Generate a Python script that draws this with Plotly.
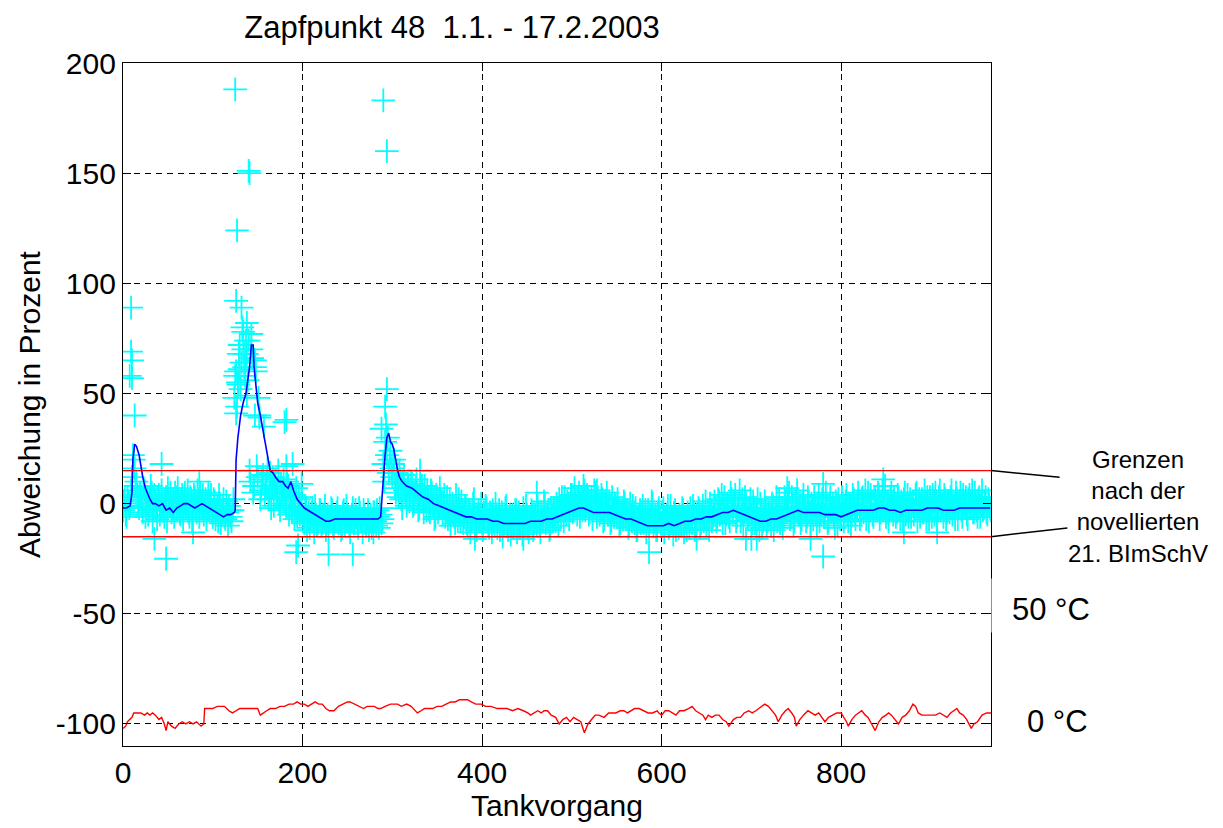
import plotly.graph_objects as go

# ---------------- data ----------------
X_MAX = 967
Y_MIN, Y_MAX = -110, 200
x_ticks = [0, 200, 400, 600, 800]
x_tick_labels = ["0", "200", "400", "600", "800"]
y_ticks = [-100, -50, 0, 50, 100, 150, 200]
y_tick_labels = ["-100", "-50", "0", "50", "100", "150", "200"]

limit_upper = 15
limit_lower = -15

# individual deviations, even Tankvorgang numbers
tank_even = list(range(0, 968, 2))
dev_even = [
    -3, 2, -6, 1, -1, 12, 20, 8, 4, -2,
    3, -4, 6, 0, -5, 2, 5, -3, 1, -7,
    4, -2, 0, -6, 3, 7, -1, -4, 2, 5,
    -3, 1, -5, 4, 0, -2, 6, -6, 2, -1,
    3, -4, 1, 5, -2, -5, 2, 0, -3, 4,
    -6, 1, -3, -8, 0, -5, 2, -7, -4, -1,
    -6, -3, 48, 60, 55, 72, 64, 78, 58, 68,
    74, 10, 66, 8, 60, 12, 40, 6, 13, 4,
    10, 2, 14, 7, -1, 11, 5, 0, 9, 3,
    6, -2, 8, 1, -4, 4, -1, -6, 2, -3,
    -5, -9, -2, -7, -11, -4, -8, -1, -10, -6,
    -3, -9, -7, -12, -5, -8, -2, -10, -6, -4,
    -9, -6, -11, -3, -8, -5, -10, -7, -2, -9,
    -6, -11, -4, -8, -3, -9, -7, -12, -5, -8,
    -4, -10, -6, -2, -9, 18, 28, 22, 14, 24,
    12, 20, 5, 9, 15, 2, 10, 6, -1, 8,
    4, 9, 0, 7, 3, -2, 6, 1, 8, -3,
    2, -4, 5, 0, -6, 3, -2, 1, -5, 4,
    -3, -7, 1, -5, -1, -9, -4, 2, -8, -3,
    -6, -2, -10, -4, -8, 0, -7, -12, -3, -5,
    -9, -4, -1, -8, -11, -6, -3, -10, -5, -7,
    -12, -4, -8, -2, -10, -7, -14, -5, -9, -3,
    -8, -11, -6, -2, -10, -5, -13, -7, -4, -9,
    -6, -1, -10, -4, -8, 0, -7, -3, -11, -5,
    -2, -8, -4, 2, -6, -1, 3, -5, 0, -3,
    4, -2, 1, -5, 5, 0, -3, 6, -1, 2,
    -4, 3, -2, 5, -6, 0, -3, 2, -7, -1,
    -5, 1, -8, -3, 0, -6, -2, -9, -4, 1,
    -7, -3, -10, -5, -1, -9, -12, -6, -3, -8,
    -9, -3, -7, -11, -5, 0, -8, -12, -4, -6,
    -10, -2, -7, -5, -11, -1, -8, -4, -12, -6,
    -5, -10, -3, -8, -12, -6, -2, -9, -4, -11,
    -7, -3, -9, -1, -6, -10, -4, 0, -8, -5,
    -2, -7, 1, -4, -9, 3, -5, -1, -8, 2,
    -3, 4, -6, -1, -8, 2, -4, 0, -7, -2,
    -5, 1, -9, -3, -7, 0, -11, -6, -2, -8,
    -4, -10, -1, -7, 3, -5, -9, -2, -6, 1,
    -3, 5, -6, 0, -8, 2, -4, -1, -7, 4,
    -2, -6, 1, -9, -3, 3, -5, 0, -8, -1,
    2, -5, -1, -8, 3, -3, -6, 1, -10, -2,
    -6, 0, -4, 4, -8, -1, -5, 2, -7, -3,
    1, -5, 3, -2, -7, 5, -3, 0, -6, 2,
    -1, 4, -4, 6, -2, -6, 1, -3, 5, -5,
    0, -4, 3, -7, -1, 2, -5, 4, -2, -6,
    1, -3, 5, -1, -6, 2, -4, 0, 3, -7,
    -2, 4, -5, 1, -3, 6, -1, -6, 2, -4,
    0, 3, -5, -2, 5, -7, 1, -3, 4, -1,
    -5, 2, -2, 6, -4, 0, -6, 3, -1, -3,
    1, -4, 2, -2,
]

# individual deviations, odd Tankvorgang numbers
tank_odd = list(range(1, 968, 2))
dev_odd = [
    1, -5, 3, -2, 6, 22, 16, 10, 0, 5,
    -1, 7, -6, 3, -3, 8, -8, 4, -2, 2,
    -5, 6, -3, 2, -8, 1, 5, -2, -6, 3,
    7, -4, 2, -7, 5, -1, -4, 3, -8, 4,
    -2, 6, -6, 0, 4, -3, -7, 5, 1, -4,
    2, -7, -1, 4, -9, -2, -6, 1, -10, -3,
    -8, 2, 58, 44, 68, 52, 80, 62, 74, 56,
    15, 70, 5, 62, 17, 48, 2, 11, 35, 8,
    16, 5, -2, 12, 8, 3, 15, -3, 6, 11,
    0, 10, -5, 5, 2, -7, 7, -2, -5, 3,
    -8, -1, -12, -4, -7, -2, -13, -5, -9, -3,
    -10, -5, -1, -9, -13, -6, -3, -11, -8, -2,
    -7, -12, -4, -10, -1, -8, -13, -5, -9, -3,
    -9, -2, -7, -13, -5, -10, -3, -8, -11, -4,
    -8, -3, -11, -5, -7, 10, 36, 30, 20, 16,
    18, 7, 14, 3, 11, -2, 13, 4, 9, 1,
    10, -1, 5, 11, -3, 4, 8, -4, 2, 6,
    -3, 6, -1, -7, 4, -4, 7, -2, 0, -6,
    3, -5, -10, 0, -6, 4, -8, -2, 1, -9,
    -1, -9, -4, -13, -6, 2, -11, -5, -8, 0,
    -12, -6, -2, -10, -4, -13, -8, 0, -11, -3,
    -6, -15, -9, -1, -12, -5, -8, -11, -3, -13,
    -4, -9, -14, -6, -1, -11, -7, -3, -12, -5,
    -10, -4, -13, -7, 1, -9, -5, -12, -2, -8,
    -6, 0, -10, -3, 3, -8, -2, 1, -7, 4,
    -4, 7, -1, 3, -6, 2, 8, -3, 4, -5,
    1, -7, 6, -2, 3, -5, 4, -8, 0, 5,
    -2, -9, 3, -6, -1, 2, -10, -4, -7, 0,
    -4, -11, 0, -8, -6, -2, -12, -5, -9, -1,
    -6, -13, -3, -8, 1, -10, -5, -12, -2, -9,
    -4, -13, -6, -1, -10, -8, -14, -3, -7, -11,
    -9, -2, -13, -6, -4, -11, -7, -1, -12, -5,
    -2, -11, -5, -8, 1, -7, -12, -3, -6, 1,
    -8, 2, -5, 4, -3, -9, 0, -6, 5, -4,
    1, -8, -2, 6, -5, -10, 3, -3, -6, 2,
    -9, -2, -6, 2, -12, -4, -8, 1, -10, -5,
    -7, 0, -12, -3, -8, 2, -6, -11, 3, -4,
    1, -7, 3, -10, -2, 6, -5, -9, 0, -3,
    -8, 3, -4, 0, -7, -1, -10, 4, -5, 2,
    -6, 5, -9, -2, -4, 0, -11, -3, 2, -7,
    3, -8, 1, -5, 0, -10, 4, -4, -1, 5,
    -7, 2, -4, 6, -1, -8, 4, -5, 3, -3,
    5, -7, 0, -3, 8, -4, -8, 3, -1, 2,
    -6, 4, -2, 1, -8, 5, -3, -6, 2, 0,
    -5, 4, -8, 2, 0, -4, 6, -7, -2, 3,
    -6, 1, 5, -8, 3, -3, 0, 4, -7, 1,
    -4, 6, -2, -7, 2, -1, 5, -6, 0, 3,
    -7, 4, 0, -4, 5, -3, 2, -6, 6, -2,
    3, -5, 0, -3,
]
assert len(dev_even) == len(tank_even)
assert len(dev_odd) == len(tank_odd)

# outlying individual values
outlier_x = [9, 9, 10, 7.5, 10, 13, 126, 132, 138, 143, 134, 136, 147, 130, 128.5,
             138, 126, 147, 180, 294, 292, 288, 125, 141, 140, 127, 290, 294,
             35, 48, 78, 193, 195, 229, 256, 279, 43, 85, 182, 189, 199,
             780, 766, 780, 847, 907, 870, 694, 700, 706, 639, 740, 586,
             331, 528, 461, 392, 446, 152, 182]
outlier_y = [89, 69, 65, 58, 57, 40, 92, 89, 82, 77, 70, 68, 65, 61, 54,
             49, 41, 40, 37, 52, 44, 34, 188, 150, 151, 124, 183, 160,
             -16, -25, -13, -22, -19, -23, -23, -13, 18, 10, 17, 18, 9,
             -24, -16, 9, 11, -13, -13, -16, -16, -16, -16, 7, -22,
             15, 6, 5, -16, -16, 39, 38]

# running mean (blue)
mean_x = [0, 4, 8, 10, 11, 13, 15, 18, 20, 22, 25, 28, 30, 33, 36, 40, 44, 48, 52, 56,
          60, 64, 68, 72, 76, 80, 84, 88, 92, 96, 100, 104, 108, 112, 116, 120, 124, 125,
          126, 128, 131, 134, 137, 139, 141, 143, 145, 146, 148, 150, 153, 156, 159, 162,
          164, 167, 170, 174, 178, 181, 184, 187, 190, 194, 198, 202, 206, 210, 214, 218,
          222, 226, 230, 236, 242, 248, 254, 260, 266, 272, 278, 284, 287, 289, 290, 292,
          294, 296, 298, 300, 302, 304, 306, 308, 311, 316, 322, 328, 334, 340, 346, 352,
          358, 364, 370, 376, 382, 388, 394, 400, 406, 412, 418, 424, 430, 436, 442, 448,
          454, 460, 466, 472, 478, 484, 490, 496, 502, 508, 513, 518, 524, 530, 536, 542,
          548, 554, 560, 566, 572, 578, 584, 590, 596, 602, 608, 614, 620, 626, 632, 638,
          644, 650, 656, 662, 668, 674, 680, 686, 692, 698, 704, 710, 716, 722, 728, 734,
          740, 746, 752, 758, 764, 770, 776, 782, 788, 794, 800, 806, 812, 818, 824, 830,
          836, 842, 848, 854, 860, 866, 872, 878, 884, 890, 896, 902, 908, 914, 920, 926,
          932, 938, 944, 950, 956, 962, 966]
mean_y = [-2, -2, -1, 5, 20, 27, 26, 22, 17, 12, 7, 4, 2, 0, 0, -1, 0, -3, -2, -4,
          -2, -1, 0, 0, -1, -2, -1, 0, -1, -2, -3, -4, -5, -6, -5, -5, -4, -3,
          20, 30, 40, 46, 50, 55, 62, 72, 72, 62, 52, 46, 40, 33, 27, 20,
          15, 14, 12, 10, 10, 8, 7, 10, 6, 2, 0, -2, -3, -4, -5, -6,
          -7, -8, -8, -7, -7, -7, -7, -7, -7, -7, -7, -7, -6, 5, 15, 22,
          30, 32, 28, 27, 24, 19, 15, 12, 10, 8, 7, 5, 3, 2, 0, -1,
          -2, -3, -4, -5, -6, -6, -7, -7, -7, -8, -8, -9, -9, -9, -9, -9,
          -8, -8, -8, -7, -7, -6, -5, -4, -3, -2, -2, -3, -4, -4, -4, -4,
          -5, -6, -7, -7, -8, -9, -10, -10, -10, -10, -9, -10, -9, -8, -8, -7,
          -7, -6, -6, -5, -4, -4, -3, -4, -5, -6, -7, -8, -8, -7, -7, -6,
          -5, -4, -3, -4, -4, -4, -4, -5, -5, -5, -6, -5, -4, -3, -3, -3,
          -3, -2, -2, -3, -3, -4, -3, -3, -3, -3, -2, -2, -2, -3, -3, -3,
          -2, -2, -2, -2, -2, -2, -2]
assert len(mean_x) == len(mean_y)

# temperature curve (red, bottom; -100 = 0 °C, -50 = 50 °C)
temp_x = [0, 3, 5, 8, 10, 12, 16, 20, 24, 27, 30, 33, 36, 40, 43, 46, 48, 50, 54, 58,
          62, 66, 70, 74, 78, 82, 87, 90, 91, 96, 100, 105, 110, 113, 118, 122, 126, 130,
          135, 140, 145, 150, 153, 156, 160, 164, 170, 175, 180, 185, 190, 194, 198, 202,
          206, 210, 214, 218, 222, 226, 230, 235, 240, 245, 250, 253, 258, 262, 268, 272,
          276, 280, 284, 287, 292, 298, 302, 306, 310, 316, 321, 325, 328, 332, 336, 340,
          345, 350, 355, 360, 365, 370, 375, 380, 384, 388, 393, 399, 404, 410, 417, 422,
          428, 434, 440, 446, 451, 454, 458, 462, 466, 469, 473, 477, 482, 486, 490, 494,
          498, 502, 506, 510, 514, 518, 522, 526, 530, 536, 541, 545, 549, 554, 558, 562,
          566, 570, 575, 580, 585, 590, 595, 597, 600, 604, 608, 612, 616, 620, 625, 630,
          634, 638, 642, 646, 649, 652, 656, 660, 664, 668, 672, 675, 680, 684, 688, 692,
          697, 701, 705, 708, 711, 715, 719, 723, 727, 730, 734, 738, 741, 745, 748, 750,
          754, 758, 763, 767, 771, 775, 779, 782, 786, 790, 795, 800, 803, 806, 808, 812,
          816, 819, 823, 827, 830, 834, 838, 842, 846, 850, 853, 856, 860, 864, 868, 872,
          876, 880, 883, 886, 890, 895, 900, 905, 910, 914, 918, 922, 926, 929, 932, 936,
          940, 945, 948, 952, 957, 962, 967]
temp_y = [-102, -101, -99, -98, -97, -95, -95, -95, -96, -95, -96, -95, -96, -98, -97, -100, -103, -99, -101, -102,
          -100, -99, -100, -99, -100, -99, -101, -100, -93, -93, -93, -92, -92, -92, -94, -95, -94, -93,
          -93, -93, -93, -93, -96, -95, -94, -93, -93, -92, -92, -91, -91, -90, -91, -91,
          -92, -91, -90, -91, -91, -93, -94, -94, -92, -91, -90, -90, -91, -92, -93, -92,
          -92, -92, -93, -93, -92, -91, -91, -91, -92, -91, -92, -94, -95, -94, -93, -93,
          -93, -92, -92, -91, -90, -90, -89, -89, -89, -90, -91, -91, -92, -92, -93, -93,
          -93, -94, -93, -94, -95, -96, -95, -94, -95, -94, -94, -96, -97, -100, -98, -97,
          -99, -97, -98, -99, -104, -100, -98, -96, -96, -97, -95, -95, -95, -94, -94, -95,
          -94, -93, -93, -94, -95, -95, -94, -95, -96, -94, -94, -95, -96, -94, -94, -93,
          -92, -94, -95, -96, -98, -96, -97, -96, -96, -98, -99, -101, -98, -97, -97, -95,
          -94, -95, -94, -93, -92, -91, -92, -94, -96, -99, -96, -94, -93, -95, -97, -101,
          -98, -96, -94, -95, -96, -95, -97, -99, -97, -96, -95, -95, -97, -99, -101, -98,
          -96, -95, -94, -96, -97, -100, -103, -99, -97, -96, -95, -96, -98, -100, -97, -96,
          -94, -91, -92, -95, -96, -96, -96, -96, -95, -96, -97, -95, -94, -93, -95, -96,
          -98, -102, -100, -99, -96, -95, -95]
assert len(temp_x) == len(temp_y)

# ---------------- figure ----------------
FONT = "Liberation Sans, Arial, sans-serif"
cross = dict(symbol="cross-thin", size=17, color="#00FFFF",
             line=dict(color="#00FFFF", width=1.8))

fig = go.Figure()
for xs, ys in ((tank_even, dev_even), (tank_odd, dev_odd), (outlier_x, outlier_y)):
    fig.add_trace(go.Scatter(x=xs, y=ys, mode="markers", marker=cross,
                             showlegend=False, hoverinfo="skip"))
fig.add_trace(go.Scatter(x=mean_x, y=mean_y, mode="lines",
                         line=dict(color="#0000FF", width=1.6), showlegend=False))
fig.add_trace(go.Scatter(x=[0, X_MAX], y=[limit_upper, limit_upper], mode="lines",
                         line=dict(color="#FF0000", width=1.4), showlegend=False))
fig.add_trace(go.Scatter(x=[0, X_MAX], y=[limit_lower, limit_lower], mode="lines",
                         line=dict(color="#FF0000", width=1.4), showlegend=False))
fig.add_trace(go.Scatter(x=temp_x, y=temp_y, mode="lines",
                         line=dict(color="#FF0000", width=1.4), showlegend=False))

axis_common = dict(
    showline=True, linecolor="black", linewidth=1.2, mirror="ticks",
    ticks="inside", ticklen=8, tickcolor="black", tickwidth=1,
    showgrid=True, gridcolor="black", gridwidth=1, griddash="6px,5px",
    zeroline=False, tickfont=dict(family=FONT, size=30, color="black"),
)

fig.update_layout(
    width=1223, height=828,
    margin=dict(l=123, r=232, t=63, b=82),
    paper_bgcolor="white", plot_bgcolor="white",
    font=dict(family=FONT, color="black"),
    title=dict(text="Zapfpunkt 48  1.1. - 17.2.2003",
               font=dict(family=FONT, size=31, color="black"),
               xref="paper", x=0.379, xanchor="center",
               yref="container", y=0.967, yanchor="middle"),
    xaxis=dict(range=[0, X_MAX], tickvals=x_ticks, ticktext=x_tick_labels,
               title=dict(text="Tankvorgang", font=dict(family=FONT, size=30),
                          standoff=6),
               **axis_common),
    yaxis=dict(range=[Y_MIN, Y_MAX], tickvals=y_ticks, ticktext=y_tick_labels,
               title=dict(text="Abweichung in Prozent", font=dict(family=FONT, size=30),
                          standoff=6),
               **axis_common),
)


def yfrac(v):
    return (v - Y_MIN) / (Y_MAX - Y_MIN)


# white patch behind the "50 °C" label (covers right axis line)
fig.add_shape(type="rect", xref="paper", yref="paper",
              x0=1.0005, x1=1.13, y0=yfrac(-58.5), y1=yfrac(-34),
              fillcolor="white", line=dict(width=0), layer="above")

# leader lines from the limit annotation to the limit lines
fig.add_shape(type="line", xref="paper", yref="paper", x0=1.0, y0=yfrac(limit_upper),
              x1=1.079, y1=yfrac(12), line=dict(color="black", width=1.5))
fig.add_shape(type="line", xref="paper", yref="paper", x0=1.0, y0=yfrac(limit_lower),
              x1=1.088, y1=yfrac(-11), line=dict(color="black", width=1.5))

fig.add_annotation(xref="paper", yref="paper", x=1.169, y=yfrac(-1.5),
                   text="Grenzen<br>nach der<br>novellierten<br>21. BImSchV",
                   showarrow=False, align="center", xanchor="center", yanchor="middle",
                   font=dict(family=FONT, size=24, color="black"))
fig.add_annotation(xref="paper", yref="paper", x=1.069, y=yfrac(-48),
                   text="50 °C", showarrow=False, xanchor="center", yanchor="middle",
                   font=dict(family=FONT, size=31, color="black"))
fig.add_annotation(xref="paper", yref="paper", x=1.077, y=yfrac(-99),
                   text="0 °C", showarrow=False, xanchor="center", yanchor="middle",
                   font=dict(family=FONT, size=31, color="black"))

fig.write_html("out.html")
